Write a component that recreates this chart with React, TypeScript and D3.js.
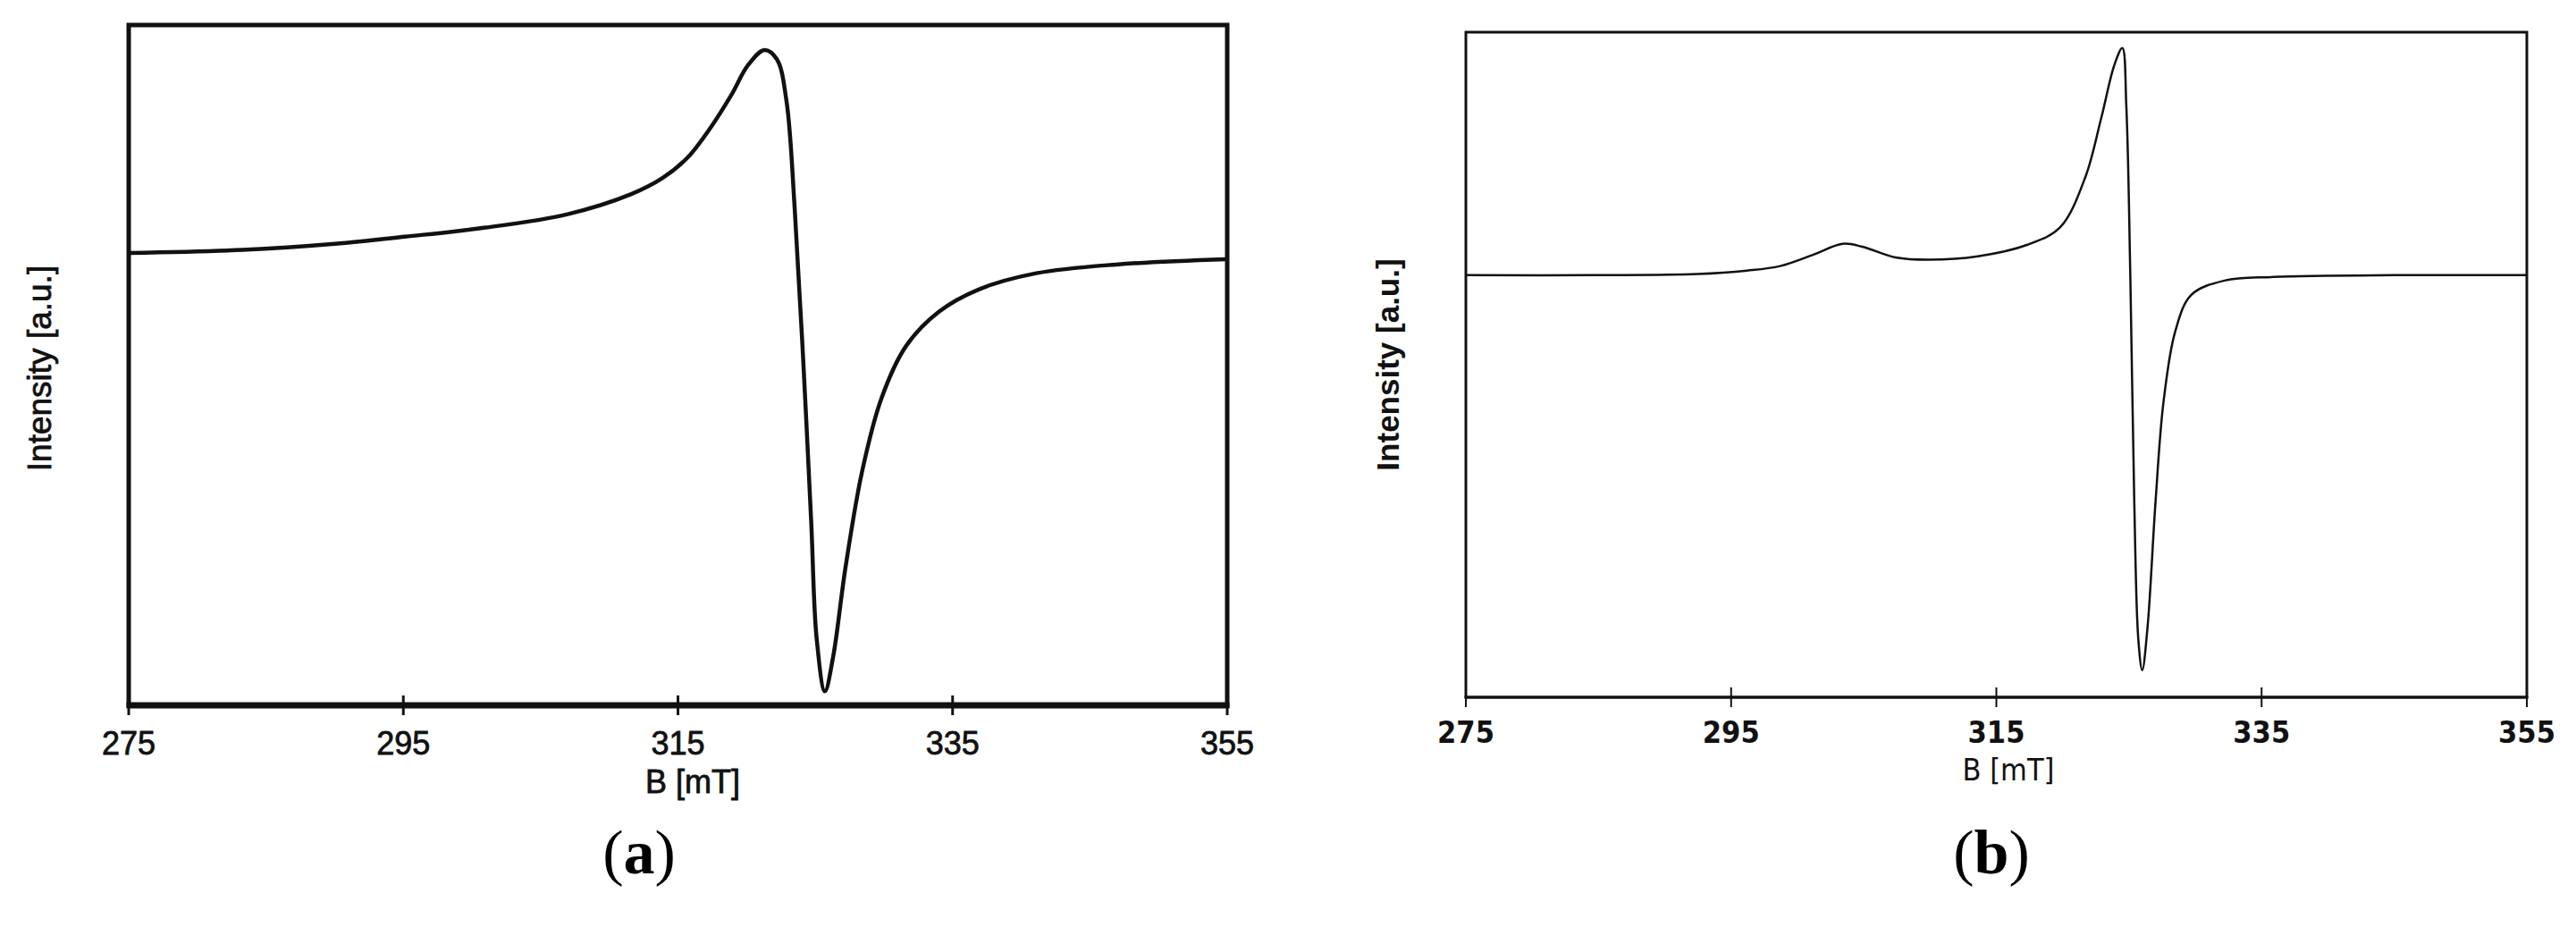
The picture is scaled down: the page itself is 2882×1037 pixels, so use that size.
import React from 'react';
import * as d3 from 'd3';

const xTicks = [275, 295, 315, 335, 355];
const xLabel = 'B [mT]';
const yLabel = 'Intensity [a.u.]';

// Panel (a): field (mT) and derivative intensity (a.u., peak = 1)
const fieldA = [275.0, 283.3, 290.0, 295.1, 301.0, 306.9, 311.6, 313.9, 315.7, 317.4, 318.9, 320.1, 321.3, 322.2, 322.9, 323.5, 324.1, 324.7, 325.1, 325.7, 326.3, 327.2, 328.4, 329.8, 331.6, 334.0, 336.9, 341.1, 346.9, 354.9];
const intensityA = [0.0, 0.015, 0.045, 0.08, 0.125, 0.19, 0.29, 0.37, 0.47, 0.62, 0.78, 0.925, 1.0, 0.955, 0.75, 0.22, -0.5, -1.32, -1.9, -2.16, -1.99, -1.55, -1.08, -0.72, -0.46, -0.29, -0.18, -0.1, -0.057, -0.031];

// Panel (b)
const fieldB = [275.0, 285.0, 292.5, 296.2, 298.7, 301.2, 303.4, 304.9, 307.4, 309.9, 313.6, 317.3, 319.8, 321.7, 322.9, 323.9, 324.5, 324.8, 325.1, 325.4, 325.7, 326.0, 326.4, 327.0, 327.6, 328.5, 329.7, 332.2, 335.9, 345.0, 355.0];
const intensityB = [0.0, 0.0, 0.005, 0.02, 0.04, 0.09, 0.138, 0.125, 0.078, 0.068, 0.083, 0.133, 0.21, 0.43, 0.69, 0.926, 1.0, 0.744, 0.0, -1.0, -1.6, -1.74, -1.55, -1.0, -0.56, -0.245, -0.087, -0.024, -0.008, 0.0, 0.0];

type PanelProps = {
  field: number[];
  intensity: number[];
  x0: number; x1: number; y0: number; y1: number;
  yDomain: [number, number];
  frameW: number; axisW: number; lineW: number; tickW: number; tickLen: number;
  tickFont: string; tickWeight: string | number; tickSize: number; tickBase: number; textStroke: number;
  xLabelX: number; xLabelBase: number; xLabelFont: string;
  yLabelX: number; yLabelY: number; yLabelWeight: string | number; yLabelSize: number;
  panelLabel: string; panelX: number;
};

function Panel(p: PanelProps) {
  const x = d3.scaleLinear().domain([275, 355]).range([p.x0, p.x1]);
  const y = d3.scaleLinear().domain(p.yDomain).range([p.y1, p.y0]);
  const pts = p.field.map((f, i) => [f, p.intensity[i]] as [number, number]);
  const line = d3.line<[number, number]>().x(d => x(d[0])).y(d => y(d[1])).curve(d3.curveCatmullRom.alpha(0.5));
  const ts = p.textStroke > 0 ? { stroke: '#111', strokeWidth: p.textStroke } : {};
  return (
    <g>
      <rect x={p.x0} y={p.y0} width={p.x1 - p.x0} height={p.y1 - p.y0} fill="none" stroke="#111" strokeWidth={p.frameW} />
      <line x1={p.x0 - p.frameW / 2} x2={p.x1 + p.frameW / 2} y1={p.y1} y2={p.y1} stroke="#111" strokeWidth={p.axisW} />
      {xTicks.map((t, i) => {
        const end = i === 0 || i === xTicks.length - 1;
        return (
          <g key={t}>
            <line x1={x(t)} x2={x(t)} y1={end ? p.y1 : p.y1 - p.tickLen} y2={p.y1 + p.tickLen} stroke="#111" strokeWidth={p.tickW} />
            <text x={x(t)} y={p.tickBase} textAnchor="middle" fontFamily={p.tickFont} fontWeight={p.tickWeight} fontSize={p.tickSize} fill="#111" {...ts}>{t}</text>
          </g>
        );
      })}
      <text x={p.xLabelX} y={p.xLabelBase} textAnchor="middle" fontFamily={p.xLabelFont} fontSize={p.tickSize} fill="#111" {...ts}>{xLabel}</text>
      <text transform={`translate(${p.yLabelX},${p.yLabelY}) rotate(-90)`} textAnchor="middle" fontFamily="'Liberation Sans', Arial, sans-serif" fontWeight={p.yLabelWeight} fontSize={p.yLabelSize} fill="#111" {...ts}>{yLabel}</text>
      <path d={line(pts) || ''} fill="none" stroke="#111" strokeWidth={p.lineW} strokeLinejoin="round" />
      <text x={p.panelX} y={977} textAnchor="middle" fontFamily="'Liberation Serif', 'Times New Roman', serif" fontSize={70} fill="#000">
        (<tspan fontWeight="bold">{p.panelLabel}</tspan>)
      </text>
    </g>
  );
}

export default function App() {
  return (
    <div style={{ position: 'fixed', left: 0, top: 0, width: 2882, height: 1037, background: '#fff' }}>
      <svg width={2882} height={1037} viewBox="0 0 2882 1037">
        <rect width={2882} height={1037} fill="#fff" />
        <Panel field={fieldA} intensity={intensityA}
          x0={144} x1={1373} y0={28} y1={789} yDomain={[-2.229, 1.123]}
          frameW={5} axisW={7} lineW={4.5} tickW={3} tickLen={11}
          tickFont="'Liberation Sans', Arial, sans-serif" tickWeight="normal" tickSize={36} tickBase={844} textStroke={0.8}
          xLabelX={775} xLabelBase={887} xLabelFont="'Liberation Sans', Arial, sans-serif"
          yLabelX={57} yLabelY={412} yLabelWeight="normal" yLabelSize={37}
          panelLabel="a" panelX={715} />
        <Panel field={fieldB} intensity={intensityB}
          x0={1640} x1={2827} y0={36} y1={780} yDomain={[-1.859, 1.070]}
          frameW={3} axisW={3} lineW={2.5} tickW={2} tickLen={11}
          tickFont="'Liberation Sans Narrow', 'DejaVu Sans Condensed', sans-serif" tickWeight="bold" tickSize={34} tickBase={831} textStroke={0}
          xLabelX={2247} xLabelBase={873} xLabelFont="'Liberation Sans Narrow', 'DejaVu Sans Condensed', sans-serif"
          yLabelX={1565} yLabelY={408} yLabelWeight="bold" yLabelSize={35}
          panelLabel="b" panelX={2228} />
      </svg>
    </div>
  );
}
